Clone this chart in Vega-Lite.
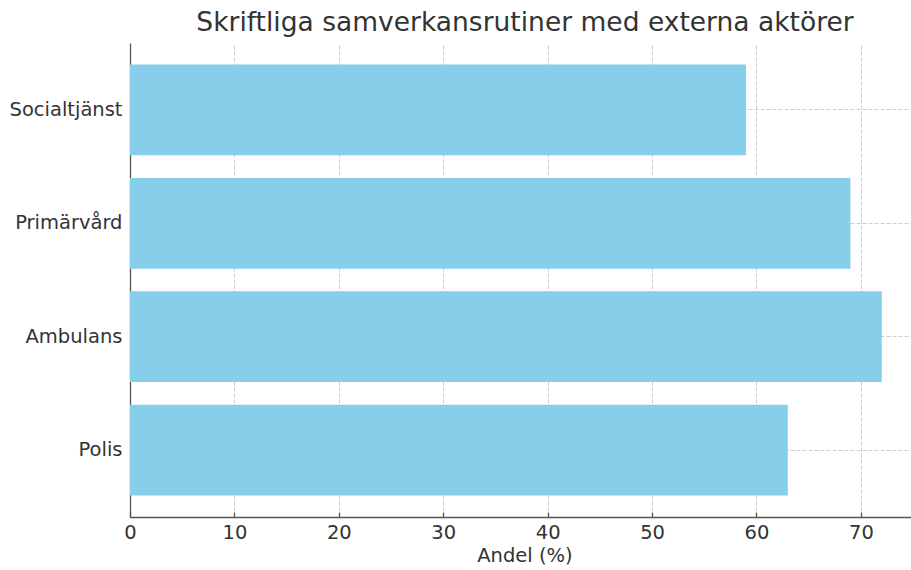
{
  "$schema": "https://vega.github.io/schema/vega-lite/v6.json",
  "width": 781,
  "height": 474,
  "autosize": {"type": "none"},
  "padding": {"left": 130, "top": 43, "right": 0, "bottom": 53},
  "background": "white",
  "config": {
    "view": {"stroke": null},
    "font": "DejaVu Sans",
    "axis": {
      "labelFont": "DejaVu Sans",
      "titleFont": "DejaVu Sans",
      "labelFontSize": 19.5,
      "titleFontSize": 19.5,
      "labelColor": "#333333",
      "titleColor": "#333333",
      "titleFontWeight": "normal",
      "domainColor": "#555555",
      "domainWidth": 1.3,
      "tickColor": "#555555",
      "tickWidth": 1.3,
      "tickSize": -5,
      "gridColor": "#b8b8b8",
      "gridOpacity": 0.7,
      "gridDash": [4, 2],
      "gridWidth": 1,
      "zindex": 1
    }
  },
  "title": {
    "text": "Skriftliga samverkansrutiner med externa aktörer",
    "font": "DejaVu Sans",
    "fontSize": 26.5,
    "fontWeight": "normal",
    "color": "#333333",
    "anchor": "middle",
    "dx": 4.5,
    "offset": 7
  },
  "data": {
    "values": [
      {"aktor": "Polis", "andel": 63},
      {"aktor": "Ambulans", "andel": 72},
      {"aktor": "Primärvård", "andel": 69},
      {"aktor": "Socialtjänst", "andel": 59}
    ]
  },
  "mark": {"type": "bar", "color": "#87CEEB"},
  "encoding": {
    "y": {
      "field": "aktor",
      "type": "nominal",
      "sort": ["Socialtjänst", "Primärvård", "Ambulans", "Polis"],
      "scale": {"paddingInner": 0.2, "paddingOuter": 0.19},
      "axis": {"title": null, "grid": true, "bandPosition": 0.5, "labelPadding": 13, "labelAngle": 0}
    },
    "x": {
      "field": "andel",
      "type": "quantitative",
      "scale": {"domain": [0, 74.8], "nice": false, "zero": true},
      "axis": {"title": "Andel (%)", "values": [0, 10, 20, 30, 40, 50, 60, 70], "grid": true, "labelPadding": 11, "titlePadding": 5, "titleX": 394.5, "labelFlush": false}
    }
  }
}
